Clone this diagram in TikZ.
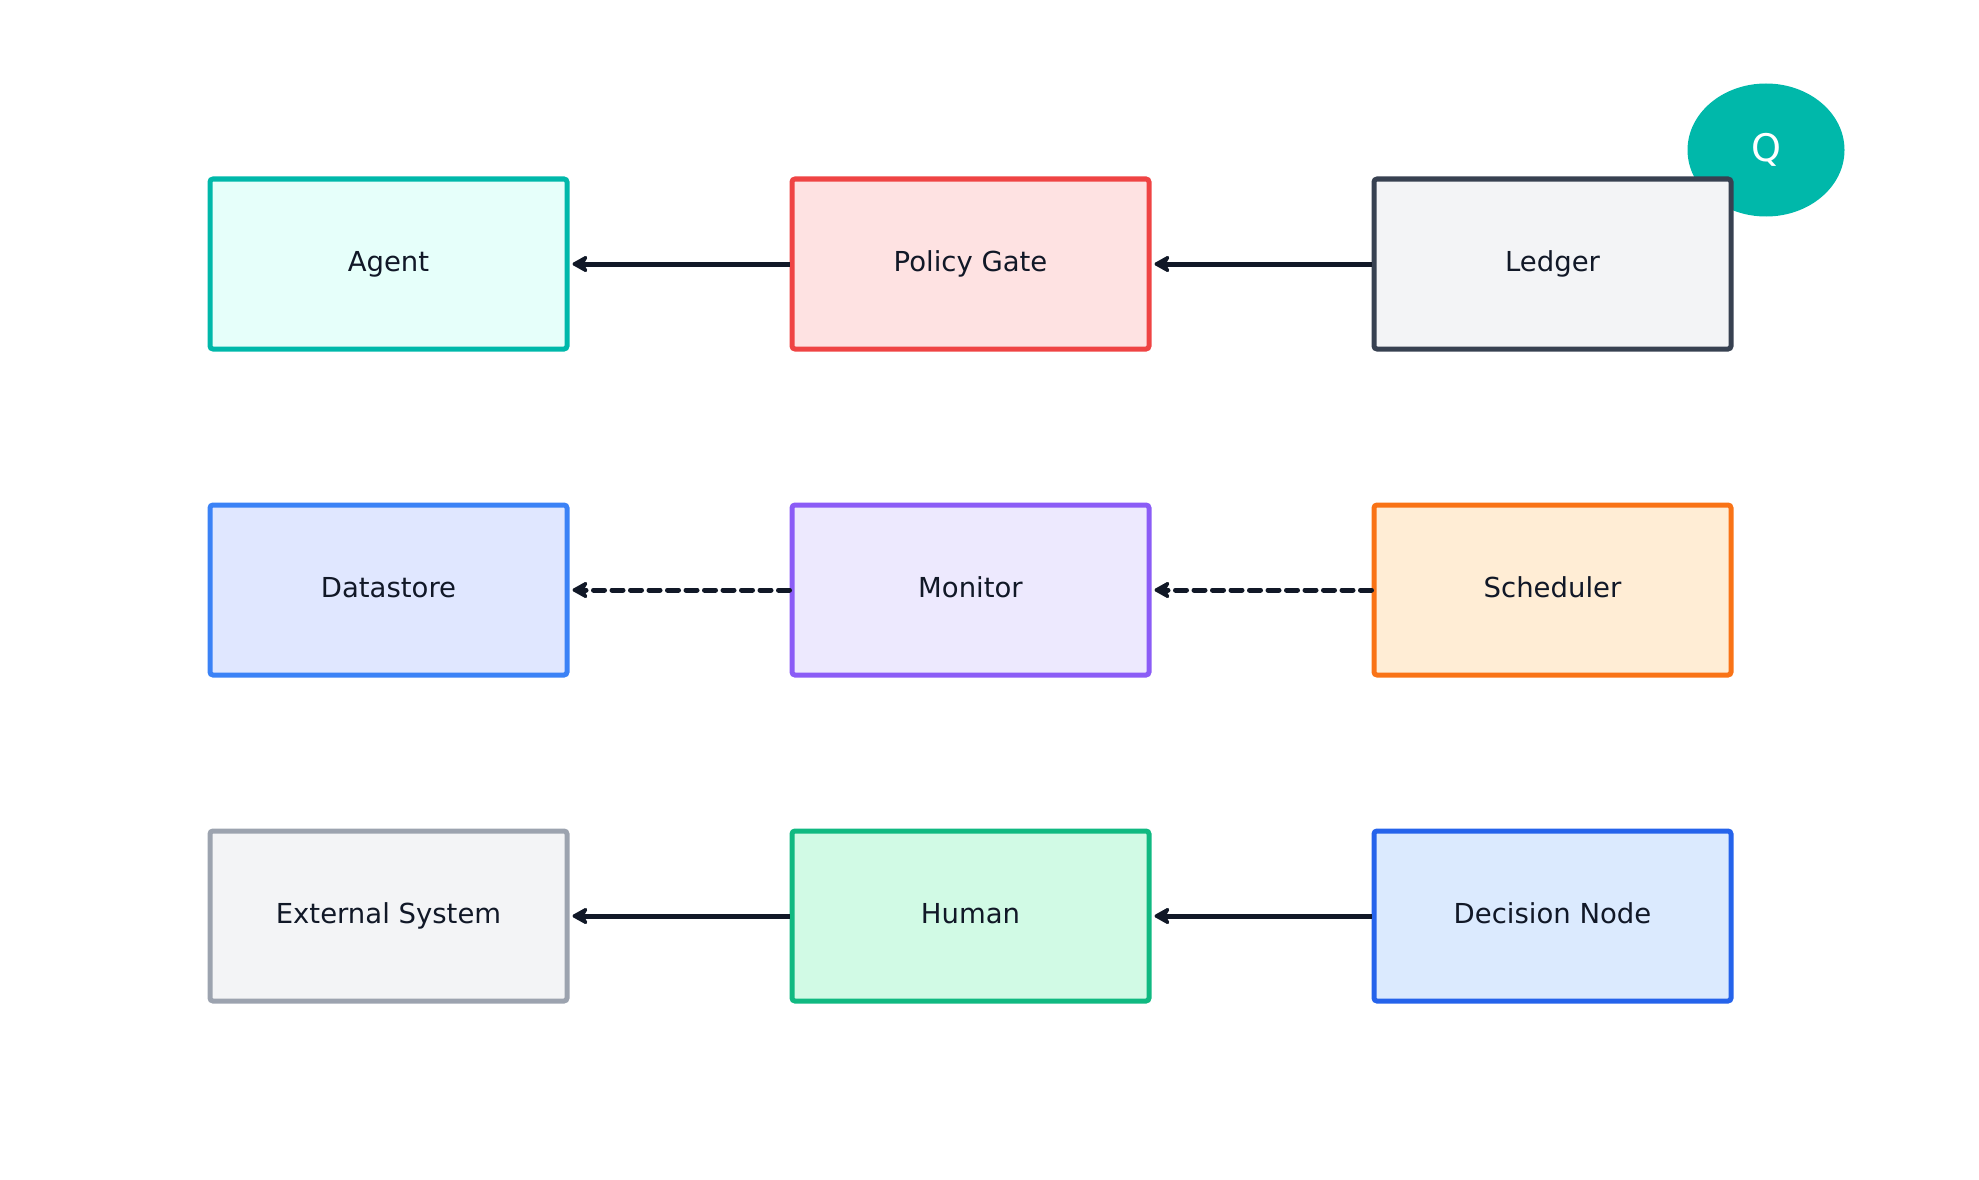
\documentclass[tikz,border=0pt]{standalone}
\usepackage{fontspec}
\setmainfont{DejaVu Sans}
\usepackage{tikz}
\usetikzlibrary{positioning,shapes.geometric,arrows.meta}
\definecolor{ink}{HTML}{111827}
\definecolor{tealline}{HTML}{00B8AA}
\definecolor{tealfill}{HTML}{E6FFFA}
\definecolor{redline}{HTML}{EF4444}
\definecolor{redfill}{HTML}{FEE2E2}
\definecolor{slateline}{HTML}{374151}
\definecolor{greyfill}{HTML}{F3F4F6}
\definecolor{blueline}{HTML}{3B82F6}
\definecolor{indigofill}{HTML}{E0E7FF}
\definecolor{violetline}{HTML}{8B5CF6}
\definecolor{violetfill}{HTML}{EDE9FE}
\definecolor{orangeline}{HTML}{F97316}
\definecolor{orangefill}{HTML}{FFEDD5}
\definecolor{greyline}{HTML}{9CA3AF}
\definecolor{greenline}{HTML}{10B981}
\definecolor{greenfill}{HTML}{D1FAE5}
\definecolor{darkblueline}{HTML}{2563EB}
\definecolor{bluefill}{HTML}{DBEAFE}
\newcommand{\flowarrow}{-{Stealth[length=19pt,width=21pt,inset=6pt,round]}}

\begin{document}
\begin{tikzpicture}[x=1pt,y=-1pt,node distance=151pt and 220pt,
    box/.style={draw,rounded corners=3pt,line width=5pt,minimum width=357pt,minimum height=170pt,inner sep=0pt,text height=20pt,text depth=6pt,text=ink,font=\fontsize{27.5}{33}\selectfont},
    link/.style={draw=ink,line width=5pt,shorten >=3pt},
    dashlink/.style={link,line cap=round,dash pattern=on 11pt off 7.5pt}]
            \useasboundingbox (0,0) rectangle (1979,1180);
            \node[ellipse,fill=tealline,minimum width=157pt,minimum height=133pt,inner sep=0pt,text=white,font=\fontsize{38}{44}\selectfont] (q) at (1766,150) {Q};
            \node[box,draw=tealline,fill=tealfill] (agent) at (388.5,264) {Agent};
            \node[box,draw=redline,fill=redfill,right=of agent] (gate) {Policy Gate};
            \node[box,draw=slateline,fill=greyfill,right=of gate] (ledger) {Ledger};
            \node[box,draw=blueline,fill=indigofill,below=of agent] (store) {Datastore};
            \node[box,draw=violetline,fill=violetfill,right=of store] (monitor) {Monitor};
            \node[box,draw=orangeline,fill=orangefill,right=of monitor] (sched) {Scheduler};
            \node[box,draw=greyline,fill=greyfill,below=of store] (ext) {External System};
            \node[box,draw=greenline,fill=greenfill,right=of ext] (human) {Human};
            \node[box,draw=darkblueline,fill=bluefill,right=of human] (decide) {Decision Node};
            \draw[link,\flowarrow] (gate) -- (agent);
            \draw[link,\flowarrow] (ledger) -- (gate);
            \draw[dashlink,\flowarrow] (monitor) -- (store);
            \draw[dashlink,\flowarrow] (sched) -- (monitor);
            \draw[link,\flowarrow] (human) -- (ext);
            \draw[link,\flowarrow] (decide) -- (human);
        \end{tikzpicture}
\end{document}
